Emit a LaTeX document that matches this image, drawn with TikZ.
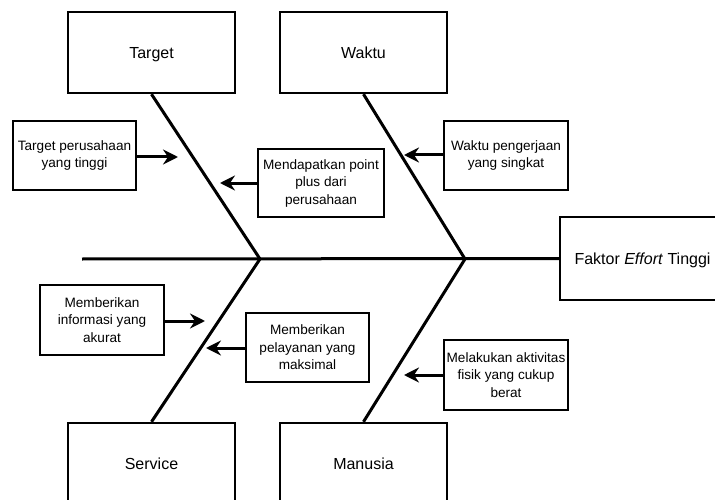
\documentclass[tikz,border=0pt]{standalone}
\usepackage{fontspec}
\setmainfont{Liberation Sans}
\usetikzlibrary{arrows.meta}
\begin{document}
\begin{tikzpicture}[x=1pt,y=-1pt,
  bigbox/.style={draw,line width=2.4pt,minimum width=167pt,minimum height=81pt,inner sep=0pt,text height=14pt,text depth=1.6pt,font=\fontsize{16}{19}\selectfont},
  smallbox/.style={draw,line width=2.4pt,minimum width=124pt,minimum height=69pt,inner sep=0pt,align=center,font=\fontsize{13.6}{17.5}\selectfont},
  bone/.style={line width=3pt},
  cause/.style={line width=3pt,-{Stealth[length=15pt,width=15pt,inset=5pt]}}]
\useasboundingbox (0,0) rectangle (715,500);
\clip (0,0) rectangle (715,500);
\node[bigbox] (target) at (151.5,52.5) {Target};
\node[bigbox] (waktu) at (363.5,52.5) {Waktu};
\node[bigbox] (service) at (151.5,463.5) {Service};
\node[bigbox] (manusia) at (363.5,463.5) {Manusia};
\node[bigbox,minimum width=165pt,minimum height=83pt] (head) at (642.5,258.5) {Faktor \textit{Effort} Tinggi};
\coordinate (tail) at (82,259);
\coordinate (j1) at (260,259);
\coordinate (j2) at (465,259);
\draw[bone] (tail) -- (head.west);
\draw[bone] (target.south) -- (j1) -- (service.north);
\draw[bone] (waktu.south) -- (j2) -- (manusia.north);
\node[smallbox,minimum width=123pt] (a) at (74.5,155.5) {Target perusahaan\\yang tinggi};
\node[smallbox,minimum width=126pt,minimum height=68pt] (b) at (321,183) {Mendapatkan point\\plus dari\\perusahaan};
\node[smallbox] (c) at (506,155.5) {Waktu pengerjaan\\yang singkat};
\node[smallbox,minimum height=70pt] (d) at (102,320) {Memberikan\\informasi yang\\akurat};
\node[smallbox,minimum width=123pt] (e) at (307.5,347.5) {Memberikan\\pelayanan yang\\maksimal};
\node[smallbox,minimum height=70pt] (f) at (506,375) {Melakukan aktivitas\\fisik yang cukup\\berat};
\coordinate (ta) at (178,157);
\coordinate (tb) at (220,183);
\coordinate (tc) at (404,155);
\coordinate (td) at (205,321);
\coordinate (te) at (206,348);
\coordinate (tf) at (404,375);
\draw[cause] (a.east |- ta) -- (ta);
\draw[cause] (b.west |- tb) -- (tb);
\draw[cause] (c.west |- tc) -- (tc);
\draw[cause] (d.east |- td) -- (td);
\draw[cause] (e.west |- te) -- (te);
\draw[cause] (f.west |- tf) -- (tf);
\end{tikzpicture}
\end{document}
